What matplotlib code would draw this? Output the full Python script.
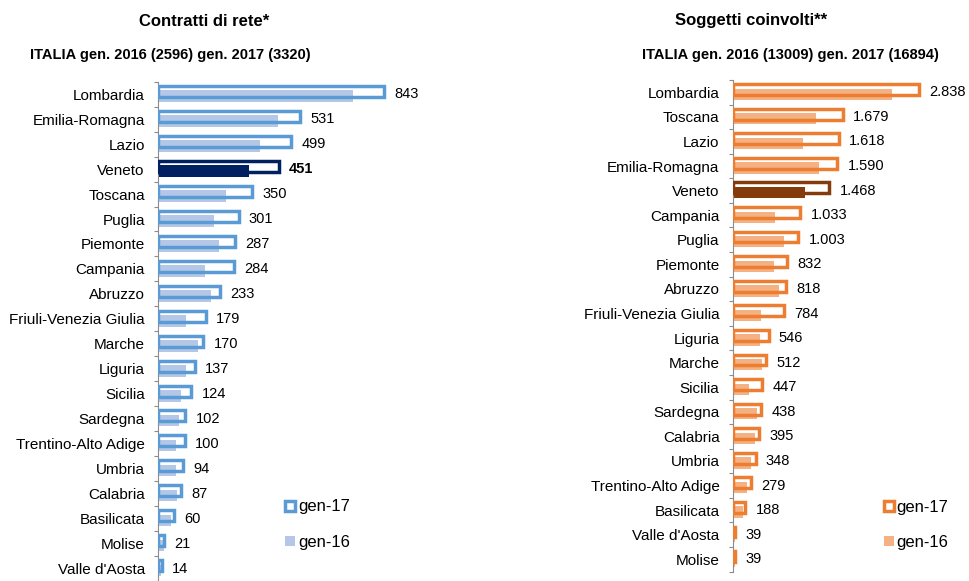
import matplotlib
matplotlib.use("Agg")
import matplotlib.pyplot as plt
from matplotlib.lines import Line2D

plt.rcParams['font.family'] = ['Liberation Sans', 'DejaVu Sans']

# --- Contratti di rete ---
regioni_contratti = ["Lombardia", "Emilia-Romagna", "Lazio", "Veneto", "Toscana", "Puglia",
                     "Piemonte", "Campania", "Abruzzo", "Friuli-Venezia Giulia", "Marche",
                     "Liguria", "Sicilia", "Sardegna", "Trentino-Alto Adige", "Umbria",
                     "Calabria", "Basilicata", "Molise", "Valle d'Aosta"]
contratti_gen17 = [843, 531, 499, 451, 350, 301, 287, 284, 233, 179, 170, 137, 124, 102, 100,
                   94, 87, 60, 21, 14]
contratti_gen16 = [728, 449, 380, 341, 255, 208, 227, 174, 199, 105, 148, 105, 87, 80, 67,
                   67, 71, 49, 21, 10]

# --- Soggetti coinvolti ---
regioni_soggetti = ["Lombardia", "Toscana", "Lazio", "Emilia-Romagna", "Veneto", "Campania",
                    "Puglia", "Piemonte", "Abruzzo", "Friuli-Venezia Giulia", "Liguria",
                    "Marche", "Sicilia", "Sardegna", "Calabria", "Umbria",
                    "Trentino-Alto Adige", "Basilicata", "Valle d'Aosta", "Molise"]
soggetti_gen17 = [2838, 1679, 1618, 1590, 1468, 1033, 1003, 832, 818, 784, 546, 512, 447, 438,
                  395, 348, 279, 188, 39, 39]
soggetti_gen16 = [2433, 1270, 1076, 1311, 1102, 645, 777, 630, 711, 432, 416, 452, 254, 366,
                  340, 274, 213, 162, 30, 30]

titolo_sx = "Contratti di rete*"
sottotitolo_sx = "ITALIA gen. 2016 (2596) gen. 2017 (3320)"
titolo_dx = "Soggetti coinvolti**"
sottotitolo_dx = "ITALIA gen. 2016 (13009) gen. 2017 (16894)"
serie = ["gen-17", "gen-16"]
evidenziata = "Veneto"

W, H = 970, 581
fig = plt.figure(figsize=(W / 100, H / 100), dpi=100)


def px_axes(x0, y_top, x1, y_bot):
    return fig.add_axes([x0 / W, 1 - y_bot / H, (x1 - x0) / W, (y_bot - y_top) / H])


def fmt_it(v):
    return f"{v:,}".replace(",", ".")


def pannello(ax, regioni, v17, v16, col17, col16, col_hl, xmax, ybottom, bold_hl):
    n = len(regioni)
    pos = list(range(n))
    bh = 0.44
    c16 = [col_hl if r == evidenziata else col16 for r in regioni]
    e17 = [col_hl if r == evidenziata else col17 for r in regioni]
    ax.barh([p + 0.08 for p in pos], v16, height=0.46, color=c16, linewidth=0, zorder=2)
    ax.barh([p - 0.11 for p in pos], v17, height=bh, facecolor='none', edgecolor=e17,
            linewidth=2.5, zorder=3)
    for p, v, r in zip(pos, v17, regioni):
        ax.annotate(fmt_it(v), xy=(v, p), xytext=(7.5, 0), textcoords='offset points',
                    va='center', ha='left', fontsize=10.5, color='black',
                    fontweight='bold' if (bold_hl and r == evidenziata) else 'normal',
                    annotation_clip=False)
    ax.set_xlim(0, xmax)
    ax.set_ylim(ybottom, -0.5)
    ax.set_yticks(pos)
    ax.set_yticklabels(regioni, fontsize=11)
    ax.set_yticks([p - 0.5 for p in range(n + 1)], minor=True)
    ax.tick_params(axis='y', which='major', length=0, pad=9.5)
    ax.tick_params(axis='y', which='minor', length=3, width=0.8, color='#8c8c8c')
    ax.xaxis.set_visible(False)
    for s in ['top', 'right', 'bottom']:
        ax.spines[s].set_visible(False)
    ax.spines['left'].set_color('#8c8c8c')
    ax.spines['left'].set_linewidth(0.8)
    ax.set_facecolor('none')


# left panel
ax1 = px_axes(158, 81.7, 440, 581)
pannello(ax1, regioni_contratti, contratti_gen17, contratti_gen16,
         '#5B9BD5', '#B4C7E7', '#002060', 282 / 0.2675, 19.42, True)

# right panel
ax2 = px_axes(732.7, 80, 970, 571.6)
pannello(ax2, regioni_soggetti, soggetti_gen17, soggetti_gen16,
         '#ED7D31', '#F4B183', '#843C0C', 237.3 / 0.0656, 19.5, False)

# titles
fig.text(204 / W, 1 - 21 / H, titolo_sx, ha='center', va='center', fontsize=12, fontweight='bold')
fig.text(170.5 / W, 1 - 55 / H, sottotitolo_sx, ha='center', va='center', fontsize=10.5,
         fontweight='bold')
fig.text(751 / W, 1 - 21 / H, titolo_dx, ha='center', va='center', fontsize=12, fontweight='bold')
fig.text(790 / W, 1 - 55 / H, sottotitolo_dx, ha='center', va='center', fontsize=10.5,
         fontweight='bold')


def legenda(ax, col17, col16, x_left, y_mid):
    h17 = Line2D([], [], marker='s', linestyle='none', markersize=7.0, markerfacecolor='white',
                 markeredgecolor=col17, markeredgewidth=2.5)
    h16 = Line2D([], [], marker='s', linestyle='none', markersize=6.5, markerfacecolor=col16,
                 markeredgewidth=0)
    ax.legend([h17, h16], serie, loc='center left', bbox_to_anchor=(x_left / W, 1 - y_mid / H),
              bbox_transform=fig.transFigure, frameon=False, fontsize=12, borderpad=0,
              handlelength=0.8, handletextpad=0.05, labelspacing=1.2, borderaxespad=0)


legenda(ax1, '#5B9BD5', '#B4C7E7', 283.8, 524.5)
legenda(ax2, '#ED7D31', '#F4B183', 882.3, 525)

fig.savefig("out.png", dpi=100)
